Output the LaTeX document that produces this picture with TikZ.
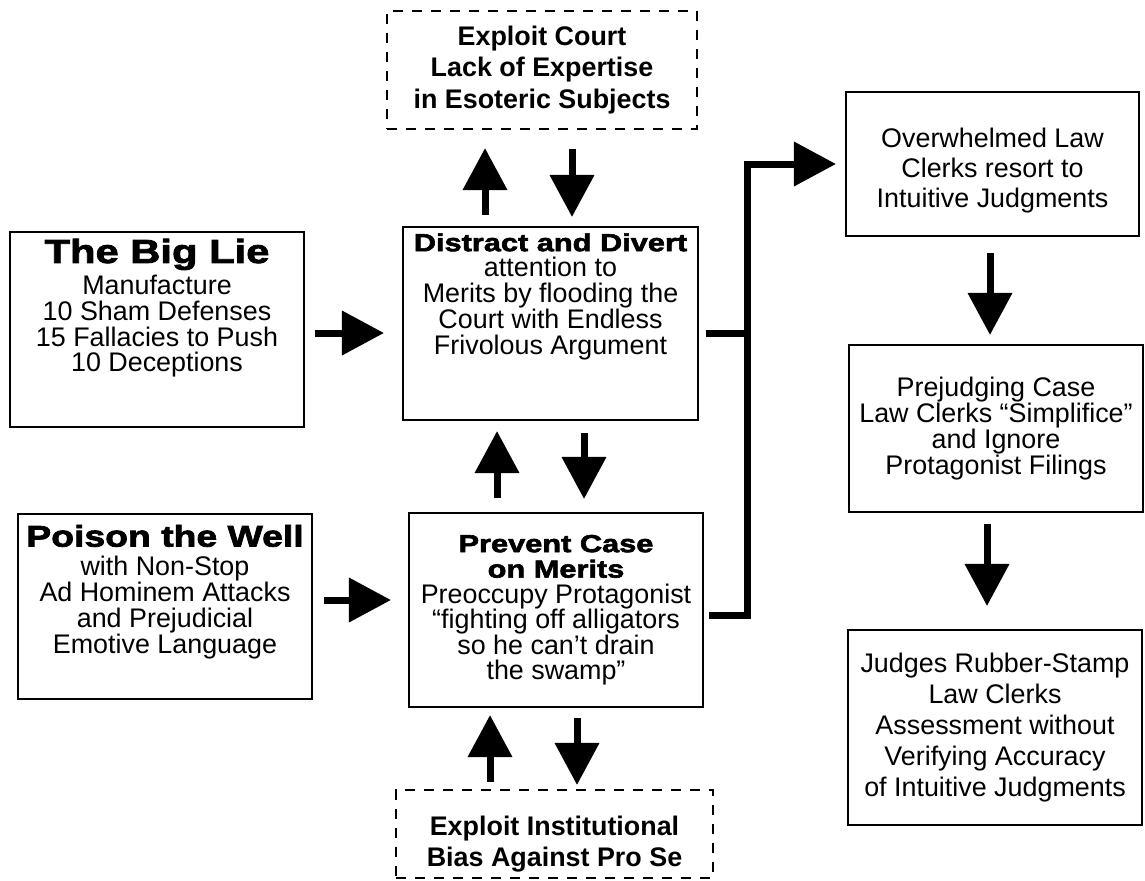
\documentclass[tikz,border=0pt]{standalone}
\usepackage{fontspec}
\setmainfont{Liberation Sans}
\newfontfamily\heavyfont[FakeBold=2.5,FakeStretch=1.25]{Liberation Sans Bold}
\usetikzlibrary{arrows.meta}

\begin{document}
\begin{tikzpicture}[
  x=0.02cm, y=-0.02cm,
  font=\fontsize{15.3}{17}\selectfont,
  box/.style={draw,line width=1.2pt,align=center,inner sep=0pt,
              minimum width=5.88cm},
  dashbox/.style={box,dash pattern=on 0.2cm off 0.18cm,
                  font=\fontsize{15.3}{18}\selectfont\bfseries},
  arrow/.style={line width=0.14cm,-{Triangle[length=0.84cm,width=0.86cm]}},
  spine/.style={line width=0.14cm}
]
\useasboundingbox (0,0) rectangle (1145,880);

% left column
\node[box,minimum height=3.9cm,font=\fontsize{15.3}{14.6}\selectfont] (biglie) at (157,329.5)
 {{\heavyfont\fontsize{19}{19}\selectfont The Big Lie}\\[2pt]Manufacture\\10 Sham Defenses\\
  15 Fallacies to Push\\10 Deceptions\\[13pt]\mbox{}};
\node[box,minimum height=3.7cm,font=\fontsize{15.3}{14.7}\selectfont] (poison) at (165,606.5)
 {{\heavyfont\fontsize{17}{17}\selectfont Poison the Well}\\[2pt]with Non-Stop\\
  Ad Hominem Attacks\\and Prejudicial\\Emotive Language\\[5pt]\mbox{}};

% middle column
\node[dashbox,minimum width=6.2cm,minimum height=2.36cm] (court) at (542,70)
 {Exploit Court\\Lack of Expertise\\in Esoteric Subjects};
\node[box,minimum width=5.9cm,minimum height=3.86cm,font=\fontsize{15.3}{14.7}\selectfont] (distract) at (550.5,323.5)
 {{\heavyfont\fontsize{14}{15}\selectfont Distract and Divert}\\attention to\\
  Merits by flooding the\\Court with Endless\\Frivolous Argument\\[19pt]\mbox{}};
\node[box,minimum height=3.88cm,font=\fontsize{15.3}{14.5}\selectfont] (prevent) at (556,610)
 {{\heavyfont\fontsize{14}{15}\selectfont Prevent Case}\\
  {\heavyfont\fontsize{14}{15}\selectfont on Merits}\\Preoccupy Protagonist\\
  ``fighting off alligators\\so he can't drain\\the swamp''};
\node[dashbox,minimum width=6.34cm,minimum height=1.76cm] (bias) at (554.5,834)
 {\mbox{}\\[4.5pt]Exploit Institutional\\Bias Against Pro Se};

% right column
\node[box,minimum width=5.86cm,minimum height=2.88cm] (overwhelmed) at (992.5,164)
 {\mbox{}\\[1.5pt]Overwhelmed Law\\Clerks resort to\\Intuitive Judgments};
\node[box,minimum height=3.34cm,font=\fontsize{15.3}{14.8}\selectfont] (prejudging) at (996,428.5)
 {Prejudging Case\\Law Clerks ``Simplifice''\\and Ignore\\Protagonist Filings};
\node[box,minimum height=3.9cm,font=\fontsize{15.3}{17.6}\selectfont] (judges) at (995,727.5)
 {Judges Rubber-Stamp\\Law Clerks\\Assessment without\\Verifying Accuracy\\
  of Intuitive Judgments};

% arrows
\draw[arrow,shorten <=0.2cm,shorten >=0.36cm]
  ([yshift=-0.07cm]biglie.east) -- ([yshift=-0.07cm]biglie.east -| distract.west);
\draw[arrow,shorten <=0.22cm,shorten >=0.34cm]
  ([yshift=0.13cm]poison.east) -- ([yshift=0.13cm]poison.east -| prevent.west);

\draw[arrow,shorten <=0.22cm,shorten >=0.36cm]
  ([xshift=-1.31cm]distract.north) -- ([xshift=-1.31cm]distract.north |- court.south);
\draw[arrow,shorten <=0.38cm,shorten >=0.18cm]
  ([xshift=0.43cm]distract.north |- court.south) -- ([xshift=0.43cm]distract.north);
\draw[arrow,shorten <=0.28cm,shorten >=0.2cm]
  ([xshift=-1.18cm]prevent.north) -- ([xshift=-1.18cm]prevent.north |- distract.south);
\draw[arrow,shorten <=0.24cm,shorten >=0.26cm]
  ([xshift=0.56cm]prevent.north |- distract.south) -- ([xshift=0.56cm]prevent.north);
\draw[arrow,shorten <=0.14cm,shorten >=0.14cm]
  ([xshift=-1.32cm]prevent.south |- bias.north) -- ([xshift=-1.32cm]prevent.south);
\draw[arrow,shorten <=0.2cm,shorten >=0.08cm]
  ([xshift=0.42cm]prevent.south) -- ([xshift=0.42cm]prevent.south |- bias.north);

\coordinate (fork) at (747,163);
\draw[spine,shorten <=0.14cm]
  ([yshift=-0.19cm]distract.east) -- ([yshift=-0.19cm]distract.east -| fork);
\draw[arrow,shorten <=0.1cm,shorten >=0.18cm]
  ([yshift=-0.1cm]prevent.east) -- ([yshift=-0.1cm]prevent.east -| fork)
  -- (fork |- overwhelmed.west) -- (overwhelmed.west);

\draw[arrow,shorten <=0.32cm,shorten >=0.18cm]
  ([xshift=-0.05cm]overwhelmed.south) -- ([xshift=-0.05cm]overwhelmed.south |- prejudging.north);
\draw[arrow,shorten <=0.22cm,shorten >=0.46cm]
  ([xshift=-0.18cm]prejudging.south) -- ([xshift=-0.18cm]prejudging.south |- judges.north);
\end{tikzpicture}
\end{document}
